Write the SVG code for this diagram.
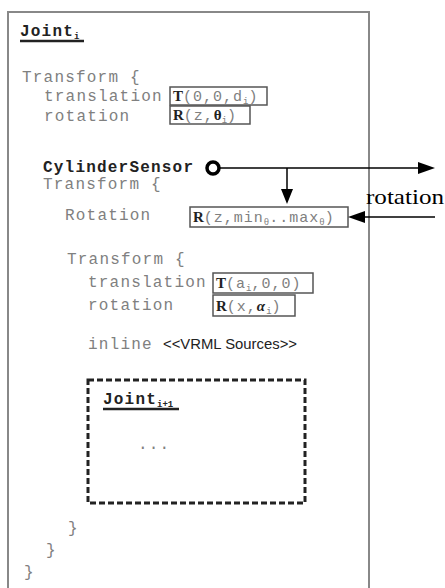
<svg xmlns="http://www.w3.org/2000/svg" width="445" height="588" viewBox="0 0 445 588">
<style>
.m{font-family:"Liberation Mono","DejaVu Sans Mono",monospace;font-size:16px;letter-spacing:1.2px;fill:#808080}
.mb{font-family:"Liberation Mono","DejaVu Sans Mono",monospace;font-size:16px;letter-spacing:1.2px;font-weight:bold;fill:#222}
.bx{font-family:"Liberation Mono","DejaVu Sans Mono",monospace;font-size:15px;letter-spacing:1px;fill:#808080}
.bs{font-family:"Liberation Serif","Times New Roman",serif;font-weight:bold;fill:#222;letter-spacing:0}
.sub{font-size:9px;letter-spacing:0}
.box{fill:none;stroke:#555;stroke-width:1.5}
.ln{stroke:#000;stroke-width:1.5;fill:none}
.ah{fill:#000}
</style>
<rect width="445" height="588" fill="#fff"/>
<g id="joint_i">
<rect x="8" y="12" width="361" height="600" fill="none" stroke="#888" stroke-width="2"/>
<text class="mb" x="20" y="36">Joint<tspan class="sub" dy="3">i</tspan></text>
<line x1="20" y1="41" x2="84" y2="41" stroke="#222" stroke-width="2.5"/>
<text class="m" x="22" y="82">Transform {</text>
<text class="m" x="44" y="101">translation</text>
<text class="m" x="44" y="121">rotation</text>
<text class="m" x="24" y="577">}</text>
</g>
<g id="box_t1">
<rect class="box" x="170" y="87" width="97" height="18"/>
<text class="bx" x="173" y="101"><tspan class="bs">T</tspan>(0,0,d<tspan class="sub" dy="3">i</tspan><tspan dy="-3">)</tspan></text>
</g>
<g id="box_r1">
<rect class="box" x="170" y="106" width="80" height="18"/>
<text class="bx" x="173" y="120"><tspan class="bs">R</tspan>(z,<tspan class="bs">θ</tspan><tspan class="sub" dy="3">i</tspan><tspan dy="-3">)</tspan></text>
</g>
<g id="sensor">
<text class="mb" x="43" y="172">CylinderSensor</text>
<circle cx="213" cy="168" r="6" fill="#fff" stroke="#000" stroke-width="3.5"/>
</g>
<g id="transform2">
<text class="m" x="43" y="189">Transform {</text>
<text class="m" x="65" y="220">Rotation</text>
<text class="m" x="46" y="555">}</text>
</g>
<g id="box_rot">
<rect class="box" x="190" y="207" width="158" height="20"/>
<text class="bx" x="193" y="222"><tspan class="bs">R</tspan>(z,min<tspan class="sub" dy="3">θ</tspan><tspan dy="-3">..max</tspan><tspan class="sub" dy="3">θ</tspan><tspan dy="-3">)</tspan></text>
</g>
<g id="transform3">
<text class="m" x="67" y="264">Transform {</text>
<text class="m" x="88" y="287">translation</text>
<text class="m" x="88" y="310">rotation</text>
<text class="m" x="88" y="349">inline</text>
<text x="163" y="349" font-family="Liberation Sans,Arial,sans-serif" font-size="14" fill="#222" textLength="134" lengthAdjust="spacingAndGlyphs">&lt;&lt;VRML Sources&gt;&gt;</text>
<text class="m" x="68" y="533">}</text>
</g>
<g id="box_t2">
<rect class="box" x="213" y="273" width="100" height="20"/>
<text class="bx" x="216" y="288"><tspan class="bs">T</tspan>(a<tspan class="sub" dy="3">i</tspan><tspan dy="-3">,0,0)</tspan></text>
</g>
<g id="box_r2">
<rect class="box" x="213" y="295" width="82" height="21"/>
<text class="bx" x="216" y="311"><tspan class="bs">R</tspan>(x,<tspan font-family="Liberation Serif,serif" font-style="italic" font-weight="bold" fill="#222">α</tspan><tspan class="sub" dy="3">i</tspan><tspan dy="-3">)</tspan></text>
</g>
<g id="joint_i1">
<rect x="88" y="380" width="217" height="123" fill="none" stroke="#222" stroke-width="3" stroke-dasharray="6 3"/>
<text class="mb" x="103" y="404">Joint<tspan class="sub" dy="3">i+1</tspan></text>
<line x1="103" y1="409" x2="179" y2="409" stroke="#222" stroke-width="2.5"/>
<text class="m" x="138" y="449">...</text>
</g>
<g id="connectors">
<line class="ln" x1="219" y1="168" x2="420" y2="168"/>
<polygon class="ah" points="418,162 435,168 418,174"/>
<line class="ln" x1="287" y1="168" x2="287" y2="190"/>
<polygon class="ah" points="281,189 293,189 287,204"/>
<line class="ln" x1="435" y1="217" x2="362" y2="217"/>
<polygon class="ah" points="365,211 365,223 348,217"/>
<text x="366" y="204" font-family="Liberation Serif,Times New Roman,serif" font-size="22" fill="#000" textLength="78" lengthAdjust="spacingAndGlyphs">rotation</text>
</g>
</svg>
